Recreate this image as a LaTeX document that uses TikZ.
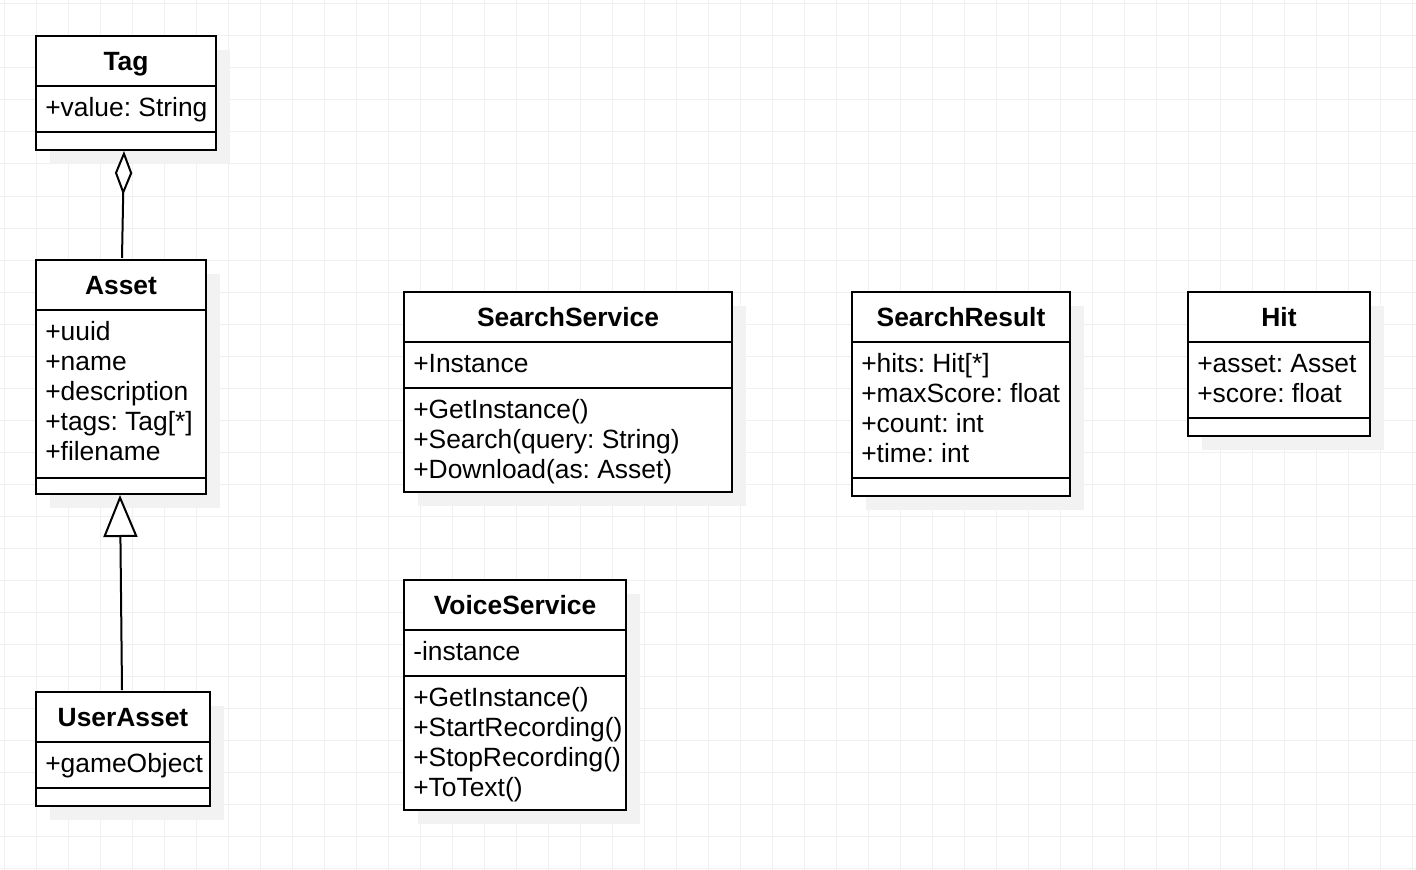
\documentclass[tikz,border=0pt]{standalone}
\usepackage{fontspec}
\setmainfont{Liberation Sans}
\usetikzlibrary{arrows.meta,calc,fit}
\definecolor{gridc}{RGB}{240,240,240}
\definecolor{shadowc}{RGB}{242,242,242}
\frenchspacing
\tikzset{
  classbox/.style={draw=black, line width=1.5pt, fill=white, inner sep=0pt, rectangle},
  divider/.style={draw=black, line width=1.5pt},
  shade/.style={fill=shadowc},
  hdr/.style={anchor=base, inner sep=0pt, font=\fontsize{19.8}{22.5}\selectfont\bfseries},
  row/.style={anchor=base west, inner sep=0pt, font=\fontsize{19.8}{22.5}\selectfont},
  conn/.style={draw=black, line width=1.5pt},
}
\begin{document}
\begin{tikzpicture}[x=0.75pt,y=-0.75pt]
\useasboundingbox (0,0) rectangle (1416,870);
\fill[white] (0,0) rectangle (1416,870);
% grid
\foreach \i in {4,36,...,1416} \draw[gridc, line width=0.75pt] (\i,0) -- (\i,870);
\foreach \j in {4,36,...,870} \draw[gridc, line width=0.75pt] (0,\j) -- (1416,\j);
% shadows
\fill[shade] (50,50) rectangle (230,164);
\fill[shade] (50,274) rectangle (220,508);
\fill[shade] (50,706) rectangle (224,820);
\fill[shade] (418,306) rectangle (746,506);
\fill[shade] (866,306) rectangle (1084,510);
\fill[shade] (1202,306) rectangle (1384,450);
\fill[shade] (418,594) rectangle (640,824);
% Tag
\node[classbox, fit={(36,36) (216,150)}] (tag) {};
\draw[divider] (36,86) -- (216,86);
\draw[divider] (36,132) -- (216,132);
\node[hdr] (tagh) at (126,71) {Tag};
\node[row] (taga1) at (45,117) {+value: String};
% Asset
\node[classbox, fit={(36,260) (206,494)}] (asset) {};
\draw[divider] (36,310) -- (206,310);
\draw[divider] (36,478) -- (206,478);
\node[hdr] (asseth) at (121,294) {Asset};
\node[row] (asseta1) at (45,340) {+uuid};
\node[row] (asseta2) at (45,370) {+name};
\node[row] (asseta3) at (45,400) {+description};
\node[row] (asseta4) at (45,430) {+tags: Tag[*]};
\node[row] (asseta5) at (45,460) {+filename};
% UserAsset
\node[classbox, fit={(36,692) (210,806)}] (userasset) {};
\draw[divider] (36,742) -- (210,742);
\draw[divider] (36,788) -- (210,788);
\node[hdr] (userasseth) at (123,726) {UserAsset};
\node[row] (userasseta1) at (45,772) {+gameObject};
% SearchService
\node[classbox, fit={(404,292) (732,492)}] (searchservice) {};
\draw[divider] (404,342) -- (732,342);
\draw[divider] (404,388) -- (732,388);
\node[hdr] (ssh) at (568,326) {SearchService};
\node[row] (ssa1) at (413,372) {+Instance};
\node[row] (ssm1) at (413,418) {+GetInstance()};
\node[row] (ssm2) at (413,448) {+Search(query: String)};
\node[row] (ssm3) at (413,478) {+Download(as: Asset)};
% SearchResult
\node[classbox, fit={(852,292) (1070,496)}] (searchresult) {};
\draw[divider] (852,342) -- (1070,342);
\draw[divider] (852,478) -- (1070,478);
\node[hdr] (srh) at (961,326) {SearchResult};
\node[row] (sra1) at (861,372) {+hits: Hit[*]};
\node[row] (sra2) at (861,402) {+maxScore: float};
\node[row] (sra3) at (861,432) {+count: int};
\node[row] (sra4) at (861,462) {+time: int};
% Hit
\node[classbox, fit={(1188,292) (1370,436)}] (hit) {};
\draw[divider] (1188,342) -- (1370,342);
\draw[divider] (1188,418) -- (1370,418);
\node[hdr] (hith) at (1279,326) {Hit};
\node[row] (hita1) at (1197,372) {+asset: Asset};
\node[row] (hita2) at (1197,402) {+score: float};
% VoiceService
\node[classbox, fit={(404,580) (626,810)}] (voiceservice) {};
\draw[divider] (404,630) -- (626,630);
\draw[divider] (404,676) -- (626,676);
\node[hdr] (vsh) at (515,614) {VoiceService};
\node[row] (vsa1) at (413,660) {-instance};
\node[row] (vsm1) at (413,706) {+GetInstance()};
\node[row] (vsm2) at (413,736) {+StartRecording()};
\node[row] (vsm3) at (413,766) {+StopRecording()};
\node[row] (vsm4) at (413,796) {+ToText()};
% connectors
\draw[conn, -{Diamond[length=33pt, width=13pt, fill=white, line width=1.5pt]}]
  ($(asset.north)+(1,-1)$) -- ($(tag.south)+(-2,0)$);
\draw[conn, -{Triangle[length=31.5pt, width=25.5pt, fill=white, line width=1.5pt]}]
  ($(userasset.north)+(-1,-1)$) -- ($(asset.south)+(-1,0)$);
\end{tikzpicture}
\end{document}
